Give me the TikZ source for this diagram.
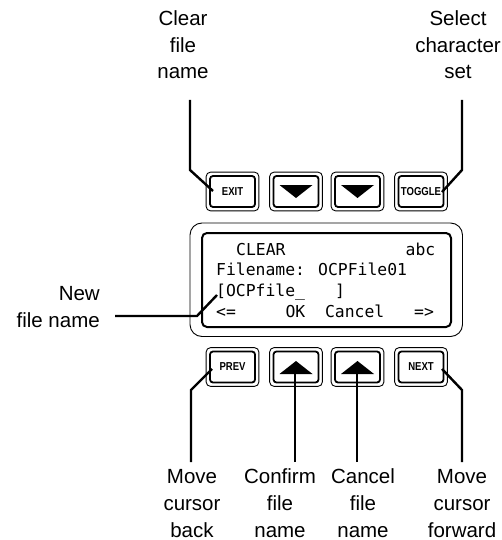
\documentclass[tikz,border=0pt]{standalone}
\usepackage{fontspec}
\setmainfont{Liberation Sans}
\newfontfamily\lcdfont{DejaVu Sans Mono}
\begin{document}
\begin{tikzpicture}[x=1pt,y=-1pt,
  lbl/.style={align=center,inner sep=0pt,font=\fontsize{20.5}{26.8}\selectfont,anchor=base},
  btn/.style={draw,line width=1.8pt,rounded corners=3pt,minimum width=45pt,minimum height=31pt,inner sep=0pt},
  btntext/.style={font=\fontsize{11.5}{12}\selectfont\bfseries,xscale=0.83},
  outerframe/.style={line width=0.9pt,rounded corners=4.5pt},
  lcd/.style={inner sep=0pt,anchor=base west,font=\fontsize{16.4}{18}\lcdfont},
  conn/.style={line width=2.4pt},
  tri/.style={fill=black}]
\useasboundingbox (0,0) rectangle (501,540);
% top buttons
\node[btn] (exit) at (232.5,191.5) {};
\node[btn] (down1) at (296,191.5) {};
\node[btn] (down2) at (357.5,191.5) {};
\node[btn] (toggle) at (421,191.5) {};
% bottom buttons
\node[btn] (prev) at (232.5,367) {};
\node[btn] (up1) at (296,367) {};
\node[btn] (up2) at (357.5,367) {};
\node[btn] (next) at (421,367) {};
\foreach \b in {exit,down1,down2,toggle,prev,up1,up2,next}{
  \draw[outerframe] ([shift={(-3,-3)}]\b.north west) rectangle ([shift={(3,3)}]\b.south east);
}
\node[btntext] (exittxt) at (exit.center) {EXIT};
\node[btntext] (toggletxt) at (toggle.center) {TOGGLE};
\node[btntext] (prevtxt) at (prev.center) {PREV};
\node[btntext] (nexttxt) at (next.center) {NEXT};
\fill[tri] ([xshift=-16.5pt,yshift=6.5pt]down1.center) -- ([xshift=16.5pt,yshift=6.5pt]down1.center) -- ([yshift=-6.5pt]down1.center) -- cycle;
\fill[tri] ([xshift=-16.5pt,yshift=6.5pt]down2.center) -- ([xshift=16.5pt,yshift=6.5pt]down2.center) -- ([yshift=-6.5pt]down2.center) -- cycle;
\fill[tri] ([xshift=-16.5pt,yshift=-7pt]up1.center) -- ([xshift=16.5pt,yshift=-7pt]up1.center) -- ([yshift=6pt]up1.center) -- cycle;
\fill[tri] ([xshift=-16.5pt,yshift=-7pt]up2.center) -- ([xshift=16.5pt,yshift=-7pt]up2.center) -- ([yshift=6pt]up2.center) -- cycle;
% display
\draw[line width=0.9pt,rounded corners=12pt] (190,223) rectangle (462.5,336.5);
\draw[line width=2pt,rounded corners=5pt] (202,233) rectangle (451,327);
\node[lcd] (r1a) at (236,255) {CLEAR};
\node[lcd] (r1b) at (405.5,255) {abc};
\node[lcd] (r2) at (216,275.5) {Filename: OCPFile01};
\node[lcd] (r3a) at (216,296) {[OCPfile\_};
\node[lcd] (r3b) at (334.9,296) {]};
\node[lcd] (r4a) at (216,317) {<=};
\node[lcd] (r4b) at (285.3,317) {OK};
\node[lcd] (r4c) at (324.9,317) {Cancel};
\node[lcd] (r4d) at (414,317) {=>};
% labels (base anchor = baseline of last line)
\node[lbl] (clear) at (183,79) {Clear\\file\\name};
\node[lbl] (select) at (458,79) {Select\\character\\set};
\node[lbl] (back) at (192,537) {Move\\cursor\\back};
\node[lbl] (confirm) at (280,537) {Confirm\\file\\name};
\node[lbl] (cancel) at (363,537) {Cancel\\file\\name};
\node[lbl] (forward) at (462,537) {Move\\cursor\\forward};
\node[lbl,align=right,anchor=base east] (newname) at (100,327) {New\\file name};
% connector endpoints
\coordinate (c1s) at (190,100); \coordinate (c1b) at (190,170); \coordinate (c1e) at (213,191);
\coordinate (c2s) at (462,100); \coordinate (c2b) at (462,170); \coordinate (c2e) at (442,192);
\coordinate (c3e) at (212,369); \coordinate (c3b) at (191,390); \coordinate (c3s) at (191,462);
\coordinate (c4e) at (295,374); \coordinate (c4s) at (295,462);
\coordinate (c5e) at (357,374); \coordinate (c5s) at (357,462);
\coordinate (c6e) at (442,369); \coordinate (c6b) at (462,390); \coordinate (c6s) at (462,462);
\coordinate (c7s) at (115,316); \coordinate (c7b) at (197,316); \coordinate (c7e) at (217,295);
\draw[conn] (c1s) -- (c1b) -- (c1e);
\draw[conn] (c2s) -- (c2b) -- (c2e);
\draw[conn] (c3s) -- (c3b) -- (c3e);
\draw[conn] (c4s) -- (c4e);
\draw[conn] (c5s) -- (c5e);
\draw[conn] (c6s) -- (c6b) -- (c6e);
\draw[conn] (c7s) -- (c7b) -- (c7e);
\end{tikzpicture}
\end{document}
